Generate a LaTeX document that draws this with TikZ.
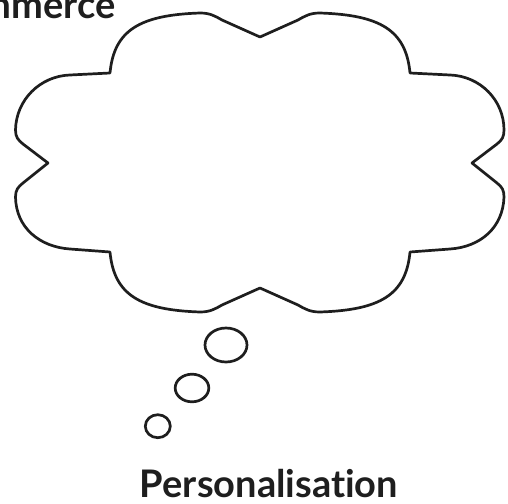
\documentclass[tikz,border=0pt]{standalone}
\usepackage{fontspec}
\setmainfont{Lato}[Ligatures=NoCommon]
\definecolor{ink}{HTML}{1E1E1E}
\begin{document}
\begin{tikzpicture}[x=1pt,y=-1pt,
  cloudline/.style={draw=ink,line width=2.7pt,line join=round},
  bubble/.style={draw=ink,line width=2.7pt},
  lbl/.style={text=ink,font=\bfseries\fontsize{38}{40}\selectfont,inner sep=0pt}]
\useasboundingbox (0,0) rectangle (508,503);
\clip (0,0) rectangle (508,503);
\draw[cloudline] (110,73) .. controls (114,30) and (140,15) .. (200,13)
 .. controls (210,13) and (215,16) .. (222,20) -- (260,37) -- (298,20)
 .. controls (305,16) and (310,13) .. (320,13)
 .. controls (380,15) and (406,30) .. (410,73)
 -- (450,75) .. controls (480,76) and (504,100) .. (504,130)
 .. controls (504,137) and (502,140) .. (497,144) -- (472,163) -- (497,183)
 .. controls (502,187) and (504,190) .. (504,197)
 .. controls (503,228) and (480,247) .. (450,249) -- (410,252)
 .. controls (406,295) and (380,310) .. (320,312)
 .. controls (310,312) and (305,309) .. (298,305) -- (260,288) -- (222,305)
 .. controls (215,309) and (210,312) .. (200,312)
 .. controls (140,310) and (114,295) .. (110,252)
 -- (70,249) .. controls (40,247) and (16,228) .. (15.5,197)
 .. controls (15.5,190) and (18,187) .. (23,183) -- (48,163) -- (23,144)
 .. controls (18,140) and (15.5,137) .. (15.5,130)
 .. controls (16,100) and (40,76) .. (70,75) -- cycle;
\draw[bubble] (226,345) ellipse [x radius=21pt, y radius=17pt];
\draw[bubble] (192,388) ellipse [x radius=16.8pt, y radius=13.8pt];
\draw[bubble] (157.8,426.2) ellipse [x radius=12.5pt, y radius=11.5pt];
\node[lbl,anchor=base] (pers) at (269,497.5) {Personalisation};
\node[lbl,anchor=base east] (ecom) at (116,18.5) {mmerce};
\end{tikzpicture}
\end{document}
